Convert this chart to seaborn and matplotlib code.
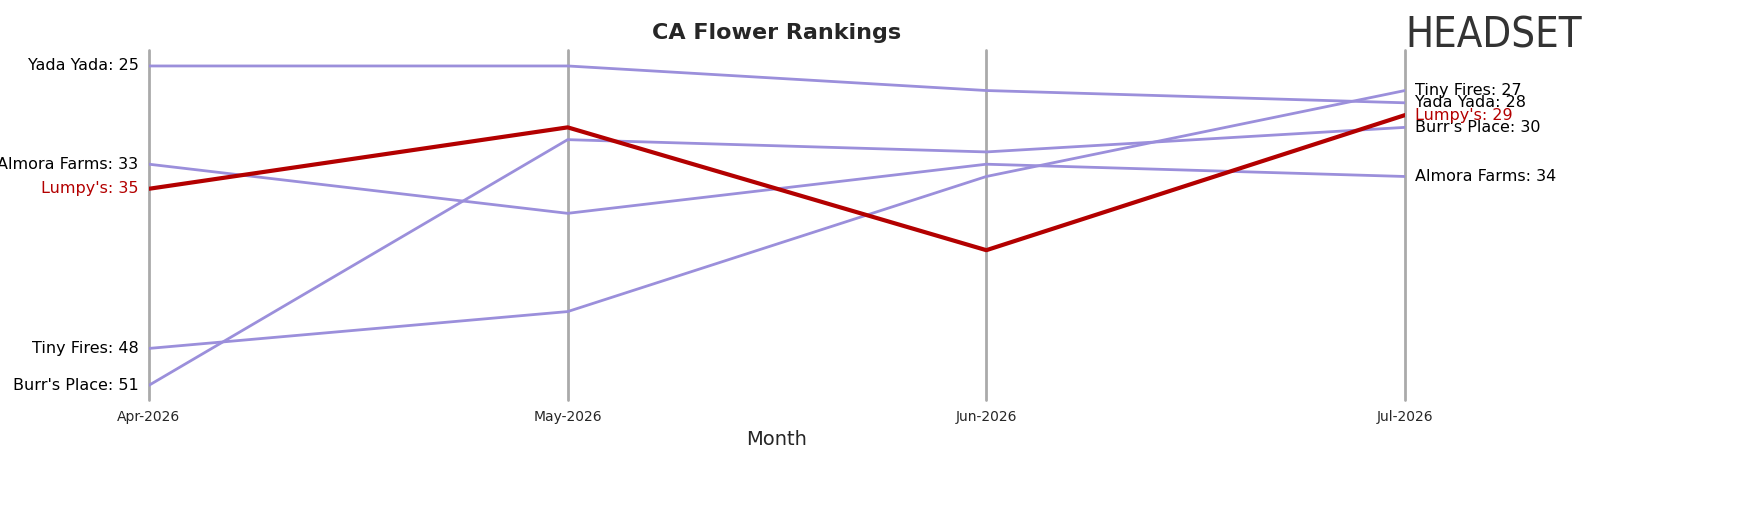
import matplotlib
matplotlib.use("Agg")
import matplotlib.pyplot as plt
import seaborn as sns
import pandas as pd

months = ["Apr-2026", "May-2026", "Jun-2026", "Jul-2026"]
brands = ["Yada Yada", "Almora Farms", "Tiny Fires", "Burr's Place", "Lumpy's"]
yada = [25, 25, 27, 28]
almora = [33, 37, 33, 34]
tiny = [48, 45, 34, 27]
burr = [51, 31, 32, 30]
lumpy = [35, 30, 40, 29]
series = [yada, almora, tiny, burr, lumpy]

rows = []
for b, vals in zip(brands, series):
    for i, (m, v) in enumerate(zip(months, vals)):
        rows.append({"Brand": b, "Month": m, "x": i, "Rank": v})
df = pd.DataFrame(rows)

sns.set_style("white")
fig = plt.figure(figsize=(17.57, 5.07), dpi=100)
ax = fig.add_axes([149/1757, 1-400/507, (1405-149)/1757, (400-50)/507])

for i in range(len(months)):
    ax.axvline(i, color="#aaaaaa", lw=2, zorder=0, clip_on=False)

others = df[df.Brand != "Lumpy's"]
sns.lineplot(data=others, x="x", y="Rank", units="Brand", estimator=None,
             color="#9b8fdb", lw=2, ax=ax, legend=False)
sns.lineplot(data=df[df.Brand == "Lumpy's"], x="x", y="Rank", color="#b30000",
             lw=3, ax=ax, legend=False)

ax.set_ylim(52.2, 23.7)
ax.set_xlim(0, 3)
ax.set_yticks([])
ax.set_xticks(range(len(months)))
ax.set_xticklabels(months, fontsize=10)
ax.tick_params(axis="x", length=4)
ax.set_xlabel("Month", fontsize=14)
ax.set_ylabel("")
for s in ax.spines.values():
    s.set_visible(False)

for b, vals in zip(brands, series):
    c = "#b30000" if b == "Lumpy's" else "black"
    ax.text(-0.025, vals[0], f"{b}: {vals[0]}", ha="right", va="center", fontsize=11.5, color=c)
    ax.text(3.025, vals[-1], f"{b}: {vals[-1]}", ha="left", va="center", fontsize=11.5, color=c)

fig.text(777/1757, 1-33/507, "CA Flower Rankings", ha="center", va="center",
         fontsize=16, fontweight="bold")
fig.text(1405/1757, 1-35/507, "HEADSET", ha="left", va="center", fontsize=30,
         color="#333333", fontstretch="condensed")

fig.savefig("out.png", dpi=100)
